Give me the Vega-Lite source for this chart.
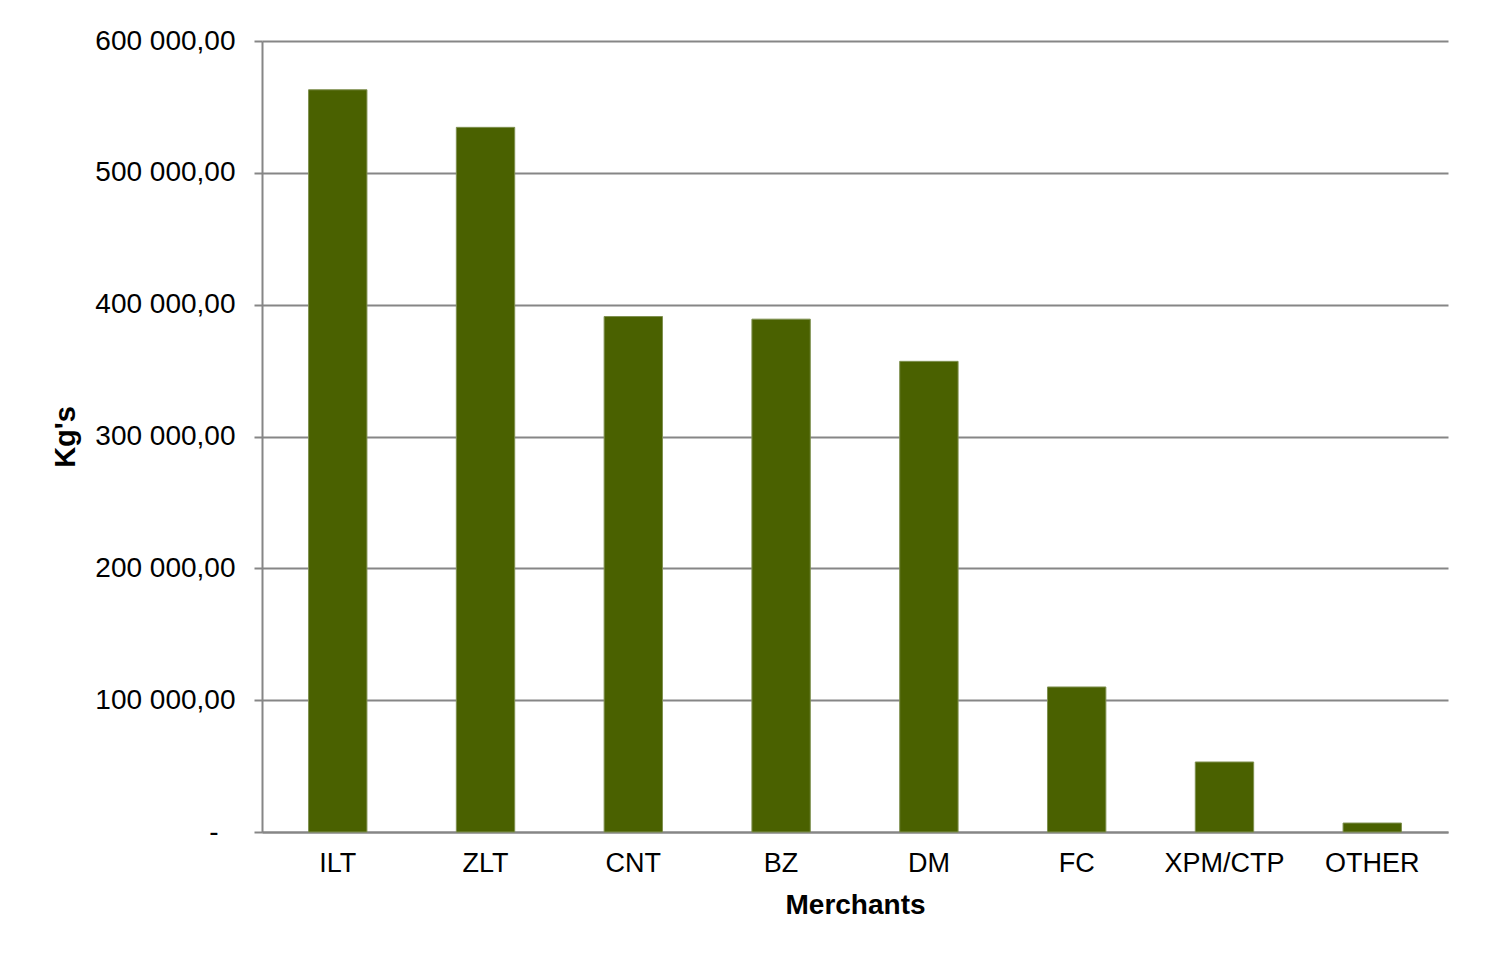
{
  "$schema": "https://vega.github.io/schema/vega-lite/v6.json",
  "autosize": {"type": "none"},
  "width": 1186,
  "height": 791,
  "padding": {"left": 262, "top": 41, "right": 40, "bottom": 122},
  "background": "white",
  "data": {
    "values": [
      {"merchant": "ILT", "kgs": 563000},
      {"merchant": "ZLT", "kgs": 534500},
      {"merchant": "CNT", "kgs": 391000},
      {"merchant": "BZ", "kgs": 389000},
      {"merchant": "DM", "kgs": 357000},
      {"merchant": "FC", "kgs": 110000},
      {"merchant": "XPM/CTP", "kgs": 53100},
      {"merchant": "OTHER", "kgs": 6800}
    ]
  },
  "mark": {"type": "bar", "color": "#4a6100", "stroke": "#7f9050", "strokeWidth": 1},
  "encoding": {
    "x": {
      "field": "merchant",
      "type": "nominal",
      "sort": null,
      "scale": {"paddingInner": 0.605, "paddingOuter": 0.315},
      "axis": {
        "title": "Merchants",
        "labelAngle": 0,
        "ticks": false,
        "labelFontSize": 27,
        "labelPadding": 18,
        "titlePadding": 15,
        "titleFontSize": 28,
        "domainColor": "#868686",
        "domainWidth": 2
      }
    },
    "y": {
      "field": "kgs",
      "type": "quantitative",
      "scale": {"domain": [0, 600000], "nice": false},
      "axis": {
        "title": "Kg's",
        "values": [0, 100000, 200000, 300000, 400000, 500000, 600000],
        "format": ",.2f",
        "labelExpr": "datum.value === 0 ? '-' : datum.label",
        "labelFontSize": 28,
        "labelPadding": {"condition": {"test": "datum.value === 0", "value": 36}, "value": 19},
        "grid": true,
        "gridColor": "#868686",
        "gridWidth": 2,
        "gridOpacity": 1,
        "tickSize": 8,
        "tickColor": "#868686",
        "tickWidth": 2,
        "domainColor": "#868686",
        "domainWidth": 2,
        "titleFontSize": 29,
        "titlePadding": 14
      }
    }
  },
  "config": {
    "locale": {"number": {"decimal": ",", "thousands": " ", "grouping": [3], "currency": ["", ""]}},
    "view": {"stroke": null},
    "axis": {
      "labelFont": "Liberation Sans",
      "labelColor": "#000000",
      "titleFont": "Liberation Sans",
      "titleFontWeight": "bold",
      "titleColor": "#000000"
    }
  }
}
